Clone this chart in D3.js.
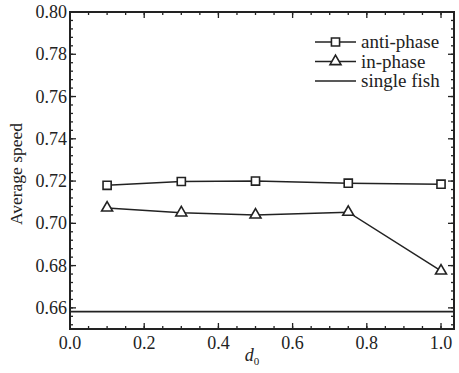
<!DOCTYPE html>
<html>
<head>
<meta charset="utf-8">
<script src="https://cdn.jsdelivr.net/npm/d3@7"></script>
<style>
  body { margin: 0; background: #fff; }
  svg text { font-family: "Liberation Serif", "Times New Roman", Times, "Nimbus Roman", "Noto Serif", "DejaVu Serif", serif; }
</style>
</head>
<body>
<svg id="chart" width="459" height="373"></svg>
<script>
// spacing values along the x axis
const d0 = [0.1, 0.3, 0.5, 0.75, 1.0];
const antiPhase = [0.718, 0.7198, 0.720, 0.719, 0.7185];
const inPhase = [0.7073, 0.7050, 0.7040, 0.7053, 0.6775];
const singleFish = 0.6582;
const xTicks = [0.0, 0.2, 0.4, 0.6, 0.8, 1.0];
const yTicks = [0.66, 0.68, 0.70, 0.72, 0.74, 0.76, 0.78, 0.80];
const legendLabels = ["anti-phase", "in-phase", "single fish"];

const svg = d3.select("#chart");
const plotL = 70, plotR = 454, plotT = 12, plotB = 329;
const ink = "#222";

const x = d3.scaleLinear().domain([0, 1.035]).range([plotL, plotR]);
const y = d3.scaleLinear().domain([0.65, 0.80]).range([plotB, plotT]);

// minor ticks every 0.05 on x, every 0.004 on y
const xMinor = d3.range(0, 1.0351, 0.05);
const yMinor = d3.range(0.652, 0.8001, 0.004);

const g = svg.append("g");

function tickMarks(vals, isMajor, axis) {
  const len = isMajor ? 6 : 3;
  vals.forEach(v => {
    if (axis === "x") {
      const px = x(v);
      g.append("line").attr("x1", px).attr("x2", px).attr("y1", plotB).attr("y2", plotB - len);
      g.append("line").attr("x1", px).attr("x2", px).attr("y1", plotT).attr("y2", plotT + len);
    } else {
      const py = y(v);
      g.append("line").attr("x1", plotL).attr("x2", plotL + len).attr("y1", py).attr("y2", py);
      g.append("line").attr("x1", plotR).attr("x2", plotR - len).attr("y1", py).attr("y2", py);
    }
  });
}
tickMarks(xMinor, false, "x");
tickMarks(xTicks, true, "x");
tickMarks(yMinor, false, "y");
tickMarks(yTicks, true, "y");
g.selectAll("line").attr("stroke", ink).attr("stroke-width", 1.3);

// frame
svg.append("rect")
  .attr("x", plotL).attr("y", plotT)
  .attr("width", plotR - plotL).attr("height", plotB - plotT)
  .attr("fill", "none").attr("stroke", ink).attr("stroke-width", 2);

// tick labels
svg.selectAll(".xl").data(xTicks).enter().append("text")
  .attr("x", d => x(d)).attr("y", plotB + 20)
  .attr("text-anchor", "middle").attr("font-size", 18).attr("fill", ink)
  .text(d => d.toFixed(1));
svg.selectAll(".yl").data(yTicks).enter().append("text")
  .attr("x", plotL - 3).attr("y", d => y(d) + 6)
  .attr("text-anchor", "end").attr("font-size", 18).attr("fill", ink)
  .text(d => d.toFixed(2));

// axis titles
svg.append("text")
  .attr("transform", "translate(22,174) rotate(-90)")
  .attr("text-anchor", "middle").attr("font-size", 17.5).attr("fill", ink)
  .text("Average speed");
const xt = svg.append("text")
  .attr("x", 252).attr("y", 361)
  .attr("text-anchor", "middle").attr("font-size", 18).attr("fill", ink);
xt.append("tspan").attr("font-style", "italic").text("d");
xt.append("tspan").attr("font-size", 11).attr("dy", 4).text("0");

// single fish reference line
svg.append("line")
  .attr("x1", plotL).attr("x2", plotR)
  .attr("y1", y(singleFish)).attr("y2", y(singleFish))
  .attr("stroke", ink).attr("stroke-width", 1.8);

const line = d3.line().x((d, i) => x(d0[i])).y(d => y(d));
const sq = d3.symbol().type(d3.symbolSquare).size(66);
const tri = d3.symbol().type(d3.symbolTriangle).size(52);

function series(vals, sym) {
  svg.append("path").datum(vals)
    .attr("d", line).attr("fill", "none")
    .attr("stroke", ink).attr("stroke-width", 1.5);
  svg.selectAll(null).data(vals).enter().append("path")
    .attr("d", sym)
    .attr("transform", (d, i) => `translate(${x(d0[i])},${y(d)})`)
    .attr("fill", "#fff").attr("stroke", ink).attr("stroke-width", 1.6);
}
series(antiPhase, sq);
series(inPhase, tri);

// legend
const lg = svg.append("g").attr("transform", "translate(315,42)");
legendLabels.forEach((lab, i) => {
  const row = lg.append("g").attr("transform", `translate(0,${i * 19.5})`);
  row.append("line").attr("x1", 0).attr("x2", 41).attr("y1", 0).attr("y2", 0)
    .attr("stroke", ink).attr("stroke-width", 1.5);
  if (i < 2) {
    row.append("path").attr("d", i === 0 ? sq : tri)
      .attr("transform", "translate(20.5,0)")
      .attr("fill", "#fff").attr("stroke", ink).attr("stroke-width", 1.6);
  }
  row.append("text").attr("x", 46).attr("y", 6).attr("font-size", 19).attr("fill", ink).text(lab);
});
</script>
</body>
</html>
